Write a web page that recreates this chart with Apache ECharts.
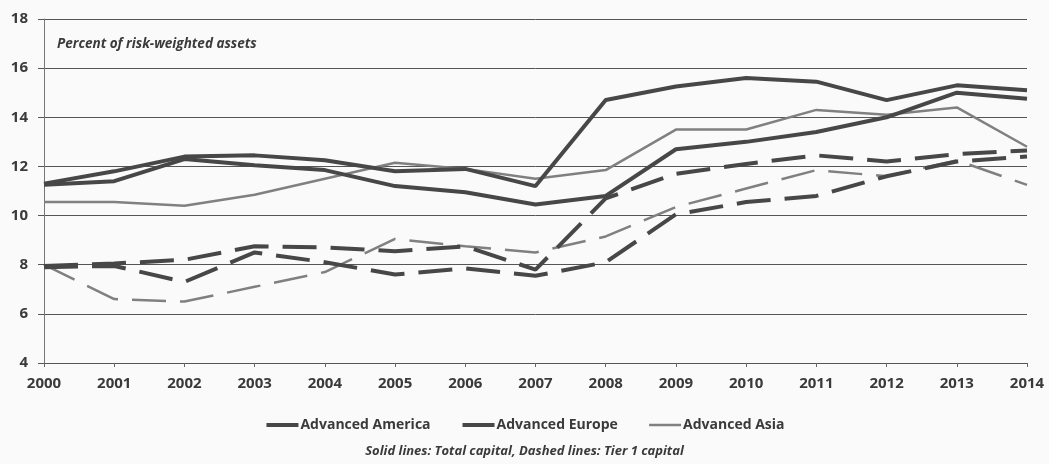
<!DOCTYPE html>
<html>
<head>
<meta charset="utf-8">
<script src="https://cdn.jsdelivr.net/npm/echarts@6/dist/echarts.min.js"></script>
<style>
html,body{margin:0;padding:0;background:#fafafa;}
#chart{width:1049px;height:464px;}
</style>
</head>
<body>
<div id="chart"></div>
<script>
const years = ['2000','2001','2002','2003','2004','2005','2006','2007','2008','2009','2010','2011','2012','2013','2014'];
const yTicks = [4, 6, 8, 10, 12, 14, 16, 18];
// Total capital (solid lines)
const americaTotal = [11.3, 11.8, 12.4, 12.45, 12.25, 11.8, 11.9, 11.2, 14.7, 15.25, 15.6, 15.45, 14.7, 15.3, 15.1];
const europeTotal  = [11.25, 11.4, 12.3, 12.05, 11.85, 11.2, 10.95, 10.45, 10.8, 12.7, 13.0, 13.4, 14.0, 15.0, 14.75];
const asiaTotal    = [10.55, 10.55, 10.4, 10.85, 11.5, 12.15, 11.9, 11.5, 11.85, 13.5, 13.5, 14.3, 14.1, 14.4, 12.8];
// Tier 1 capital (dashed lines)
const americaTier1 = [7.95, 8.05, 8.2, 8.75, 8.7, 8.55, 8.75, 7.8, 10.7, 11.7, 12.1, 12.45, 12.2, 12.5, 12.65];
const europeTier1  = [7.9, 7.95, 7.3, 8.5, 8.1, 7.6, 7.85, 7.55, 8.1, 10.05, 10.55, 10.8, 11.6, 12.2, 12.4];
const asiaTier1    = [8.0, 6.6, 6.5, 7.1, 7.7, 9.05, 8.75, 8.5, 9.15, 10.35, 11.1, 11.85, 11.6, 12.25, 11.25];
const seriesNames = ['Advanced America', 'Advanced Europe', 'Advanced Asia'];
const titleText = 'Percent of risk-weighted assets';
const noteText = 'Solid lines: Total capital, Dashed lines: Tier 1 capital';

const FONT = '"Open Sans", "DejaVu Sans", sans-serif';
const dark = '#474747';
const light = '#808080';

function mk(name, data, color, width, dashed, z) {
  return {
    name: name, type: 'line', data: data, symbol: 'none', smooth: false, z: z,
    lineStyle: { color: color, width: width, type: dashed ? [34, 14] : 'solid', cap: 'butt' },
    itemStyle: { color: color },
    emphasis: { disabled: true }
  };
}

const chart = echarts.init(document.getElementById('chart'));
chart.setOption({
  backgroundColor: '#fafafa',
  animation: false,
  textStyle: { fontFamily: FONT },
  grid: { left: 44, right: 22, top: 19, bottom: 101, containLabel: false },
  graphic: [
    { type: 'text', left: 57, top: 37, style: { text: titleText, fontFamily: FONT, fontStyle: 'italic', fontWeight: 'bold', fontSize: 13.5, fill: '#3a3a3a' } },
    { type: 'text', left: 'center', top: 445, style: { text: noteText, fontFamily: FONT, fontStyle: 'italic', fontWeight: 'bold', fontSize: 13, fill: '#3a3a3a' } }
  ],
  legend: {
    data: [
      { name: seriesNames[0], lineStyle: { width: 4, color: dark } },
      { name: seriesNames[1], lineStyle: { width: 4, color: dark } },
      { name: seriesNames[2], lineStyle: { width: 2.5, color: light } }
    ],
    top: 413, left: 'center',
    itemWidth: 32, itemHeight: 14, itemGap: 30,
    itemStyle: { opacity: 0 },
    textStyle: { fontFamily: FONT, fontWeight: 'bold', fontSize: 14, color: '#3a3a3a', padding: [0, 0, 0, -3] }
  },
  xAxis: {
    type: 'category', data: years, boundaryGap: false,
    axisLine: { show: false },
    axisTick: { show: true, alignWithLabel: true, length: 4, lineStyle: { color: '#666' } },
    axisLabel: { fontFamily: FONT, fontWeight: 'bold', fontSize: 15, color: '#3a3a3a', margin: 13 },
    splitLine: { show: false }
  },
  yAxis: {
    type: 'value', min: yTicks[0], max: yTicks[yTicks.length - 1], interval: 2,
    axisLine: { show: true, lineStyle: { color: '#777', width: 1 } },
    axisTick: { show: true, length: 6, lineStyle: { color: '#555' } },
    axisLabel: { fontFamily: FONT, fontWeight: 'bold', fontSize: 15, color: '#3a3a3a', margin: 16 },
    splitLine: { show: true, lineStyle: { color: '#555', width: 1 } }
  },
  series: [
    mk(seriesNames[2], asiaTotal, light, 2.5, false, 2),
    mk(seriesNames[2], asiaTier1, light, 2.5, true, 2),
    mk(seriesNames[0], americaTotal, dark, 4, false, 3),
    mk(seriesNames[1], europeTotal, dark, 4, false, 3),
    mk(seriesNames[0], americaTier1, dark, 4, true, 3),
    mk(seriesNames[1], europeTier1, dark, 4, true, 3)
  ]
});
</script>
</body>
</html>
